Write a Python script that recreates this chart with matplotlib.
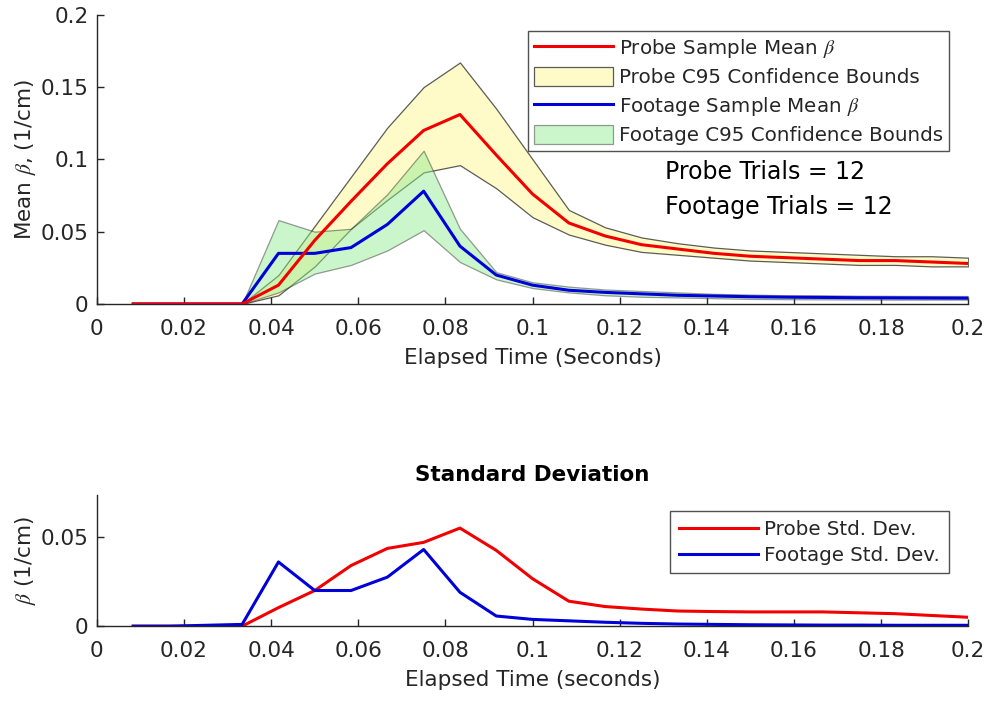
import numpy as np
import matplotlib
matplotlib.use("Agg")
import matplotlib.pyplot as plt

plt.rcParams["font.family"] = ["DejaVu Sans"]
plt.rcParams["mathtext.fontset"] = "stix"

# sample times (1/120 s steps)
t = [0.00833, 0.01667, 0.025, 0.03333, 0.04167, 0.05, 0.05833, 0.06667, 0.075,
     0.08333, 0.09167, 0.1, 0.10833, 0.11667, 0.125, 0.13333, 0.14167, 0.15,
     0.15833, 0.16667, 0.175, 0.18333, 0.19167, 0.2]

probe_mean = [0, 0, 0, 0, 0.013, 0.044, 0.071, 0.097, 0.120,
              0.131, 0.103, 0.076, 0.056, 0.047, 0.041, 0.038, 0.035, 0.033,
              0.032, 0.031, 0.030, 0.030, 0.029, 0.028]
probe_upper = [0, 0, 0, 0, 0.020, 0.054, 0.088, 0.122, 0.150,
               0.167, 0.135, 0.100, 0.065, 0.053, 0.046, 0.042, 0.039, 0.037,
               0.036, 0.035, 0.034, 0.033, 0.033, 0.032]
probe_lower = [0, 0, 0, 0, 0.006, 0.026, 0.052, 0.072, 0.091,
               0.096, 0.080, 0.060, 0.048, 0.041, 0.036, 0.034, 0.032, 0.030,
               0.029, 0.028, 0.027, 0.027, 0.026, 0.026]

footage_mean = [0, 0, 0, 0, 0.035, 0.035, 0.039, 0.055, 0.078,
                0.040, 0.020, 0.013, 0.0095, 0.008, 0.007, 0.006, 0.0055, 0.005,
                0.0047, 0.0045, 0.0043, 0.0042, 0.0041, 0.004]
footage_upper = [0, 0, 0, 0, 0.058, 0.050, 0.052, 0.076, 0.106,
                 0.052, 0.022, 0.015, 0.012, 0.010, 0.009, 0.008, 0.007, 0.0065,
                 0.006, 0.006, 0.0057, 0.0056, 0.0055, 0.0055]
footage_lower = [0, 0, 0, 0, 0.008, 0.021, 0.027, 0.037, 0.051,
                 0.029, 0.017, 0.011, 0.008, 0.006, 0.005, 0.0045, 0.004, 0.0035,
                 0.0033, 0.0032, 0.0031, 0.003, 0.003, 0.003]

probe_std = [0, 0, 0, 0, 0.0104, 0.020, 0.034, 0.0436, 0.047,
             0.055, 0.0425, 0.0266, 0.014, 0.011, 0.0096, 0.0085, 0.0082, 0.008,
             0.008, 0.008, 0.0075, 0.007, 0.006, 0.005]
footage_std = [0, 0, 0.0005, 0.001, 0.036, 0.020, 0.020, 0.0275, 0.043,
               0.019, 0.0057, 0.0038, 0.003, 0.0022, 0.0016, 0.0012, 0.001, 0.0008,
               0.0007, 0.0006, 0.0006, 0.0005, 0.0005, 0.0005]

xticks = [0, 0.02, 0.04, 0.06, 0.08, 0.1, 0.12, 0.14, 0.16, 0.18, 0.2]
xticklabels = ["0", "0.02", "0.04", "0.06", "0.08", "0.1", "0.12", "0.14", "0.16", "0.18", "0.2"]

ink = "#262626"
red = (0.95, 0.0, 0.0)
blue = (0.0, 0.0, 0.85)


def style_axes(ax):
    for side in ["top", "right"]:
        ax.spines[side].set_visible(False)
    for side in ["left", "bottom"]:
        ax.spines[side].set_color(ink)
        ax.spines[side].set_linewidth(1.0)
    ax.tick_params(direction="in", length=5, width=1.0, colors=ink, labelsize=15.5)
    ax.tick_params(axis="x", pad=11)
    ax.tick_params(axis="y", pad=6)
    ax.set_xlim(0, 0.2)
    ax.set_xticks(xticks)
    ax.set_xticklabels(xticklabels)


fig = plt.figure(figsize=(9.89, 7.02), dpi=100)
ax1 = fig.add_axes([0.098, 0.567, 0.881, 0.412])
ax2 = fig.add_axes([0.098, 0.108, 0.881, 0.187])

# top panel: means with 95% bounds
ax1.fill_between(t, probe_lower, probe_upper, facecolor=(1.0, 0.98, 0.72), alpha=0.75,
                 edgecolor=ink, linewidth=0.9, label="Probe C95 Confidence Bounds", zorder=1)
ax1.fill_between(t, footage_lower, footage_upper, facecolor=(0.55, 0.92, 0.55), alpha=0.45,
                 edgecolor=ink, linewidth=0.9, label="Footage C95 Confidence Bounds", zorder=2)
ax1.plot(t, footage_mean, color=blue, linewidth=2.2, label=r"Footage Sample Mean $\beta$", zorder=3)
ax1.plot(t, probe_mean, color=red, linewidth=2.2, label=r"Probe Sample Mean $\beta$", zorder=4)

style_axes(ax1)
ax1.set_ylim(0, 0.2)
ax1.set_yticks([0, 0.05, 0.1, 0.15, 0.2])
ax1.set_yticklabels(["0", "0.05", "0.1", "0.15", "0.2"])
ax1.set_xlabel("Elapsed Time (Seconds)", fontsize=15.5, color=ink, labelpad=6)
ax1.set_ylabel(r"Mean $\beta$, (1/cm)", fontsize=15.5, color=ink, labelpad=2)

h, l = ax1.get_legend_handles_labels()
order = [3, 0, 2, 1]
leg1 = ax1.legend([h[i] for i in order], [l[i] for i in order], loc="upper right",
                  bbox_to_anchor=(0.978, 0.945), fontsize=14.3, frameon=True, fancybox=False,
                  edgecolor=ink, handlelength=4.0, handleheight=1.05, labelspacing=0.38,
                  borderpad=0.3, handletextpad=0.3, borderaxespad=0)
leg1.get_frame().set_linewidth(1.0)
for txt in leg1.get_texts():
    txt.set_color(ink)

ax1.text(0.652, 0.457, "Probe Trials = 12", transform=ax1.transAxes,
         fontsize=17, color="black", va="center", ha="left")
ax1.text(0.652, 0.336, "Footage Trials = 12", transform=ax1.transAxes,
         fontsize=17, color="black", va="center", ha="left")

# bottom panel: standard deviation
ax2.plot(t, probe_std, color=red, linewidth=2.2, label="Probe Std. Dev.")
ax2.plot(t, footage_std, color=blue, linewidth=2.2, label="Footage Std. Dev.")
style_axes(ax2)
ax2.set_ylim(0, 0.0736)
ax2.set_yticks([0, 0.05])
ax2.set_yticklabels(["0", "0.05"])
ax2.set_xlabel("Elapsed Time (seconds)", fontsize=15.5, color=ink, labelpad=6)
ax2.set_ylabel(r"$\beta$ (1/cm)", fontsize=15.5, color=ink, labelpad=2)
ax2.set_title("Standard Deviation", fontsize=15.5, fontweight="bold", color="black", pad=10)
leg2 = ax2.legend(loc="upper right", bbox_to_anchor=(0.978, 0.88), fontsize=14.3, frameon=True,
                  fancybox=False, edgecolor=ink, handlelength=4.0, labelspacing=0.35,
                  borderpad=0.45, handletextpad=0.3, borderaxespad=0)
leg2.get_frame().set_linewidth(1.0)
for txt in leg2.get_texts():
    txt.set_color(ink)

fig.savefig("out.png", dpi=100)
